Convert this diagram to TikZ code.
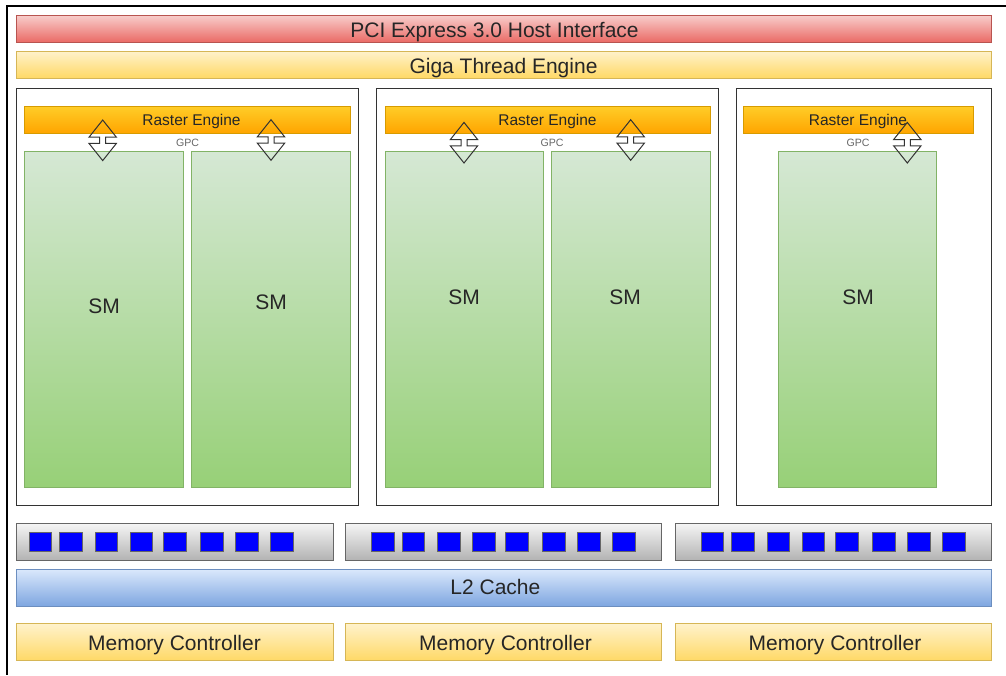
\documentclass[tikz,border=0pt]{standalone}
\usepackage{fontspec}
\setmainfont{Liberation Sans}
\definecolor{pciTop}{HTML}{F8CECC}
\definecolor{pciBot}{HTML}{EA6B66}
\definecolor{pciLine}{HTML}{B85450}
\definecolor{ylwTop}{HTML}{FFF2CC}
\definecolor{ylwBot}{HTML}{FFD966}
\definecolor{ylwLine}{HTML}{D6B656}
\definecolor{orgTop}{HTML}{FFCD28}
\definecolor{orgBot}{HTML}{FFA500}
\definecolor{orgLine}{HTML}{D79B00}
\definecolor{grnTop}{HTML}{D5E8D4}
\definecolor{grnBot}{HTML}{97D077}
\definecolor{grnLine}{HTML}{82B366}
\definecolor{gryTop}{HTML}{F5F5F5}
\definecolor{gryBot}{HTML}{B3B3B3}
\definecolor{gryLine}{HTML}{666666}
\definecolor{bluTop}{HTML}{DAE8FC}
\definecolor{bluBot}{HTML}{7EA6E0}
\definecolor{bluLine}{HTML}{6C8EBF}
\definecolor{frameLine}{HTML}{333333}
\tikzset{
  x=1pt, y=-1pt,
  blk/.style={rectangle, draw, line width=1pt, inner sep=0pt, outer sep=0pt, anchor=north west},
  pci/.style={blk, top color=pciTop, bottom color=pciBot, draw=pciLine},
  ylw/.style={blk, top color=ylwTop, bottom color=ylwBot, draw=ylwLine},
  raster/.style={blk, top color=orgTop, bottom color=orgBot, draw=orgLine},
  sm/.style={blk, top color=grnTop, bottom color=grnBot, draw=grnLine},
  xbar/.style={blk, top color=gryTop, bottom color=gryBot, draw=gryLine},
  l2/.style={blk, top color=bluTop, bottom color=bluBot, draw=bluLine},
  gpc/.style={blk, fill=white, draw=frameLine},
  port/.style={blk, fill=blue, draw=gryLine, minimum width=22.7pt, minimum height=19.3pt},
  big/.style={font=\fontsize{21}{25}\selectfont, text=black!85, text height=15pt, text depth=0pt},
  mid/.style={font=\fontsize{15.5}{18}\selectfont, text=black!85, text height=11.1pt, text depth=0pt},
  tiny/.style={font=\fontsize{10.6}{12}\selectfont, text=black!60, text height=7.6pt, text depth=0pt},
  arrowline/.style={draw=frameLine, line width=1pt, line join=miter},
  dblarrow/.pic={
    \draw[arrowline] (0,-20.3) -- (13.7,-3.1) -- (3,-3.1) -- (3,3.1) -- (13.7,3.1)
      -- (0,20.3) -- (-13.7,3.1) -- (-3,3.1) -- (-3,-3.1) -- (-13.7,-3.1) -- cycle;
  }
}
\begin{document}
\begin{tikzpicture}
\useasboundingbox (0,0) rectangle (1006,675);
% outer frame (top and left edges)
\coordinate (frameTR) at (1006,6);
\coordinate (frameTL) at (7,6);
\coordinate (frameBL) at (7,675);
\draw[line width=1.2pt, black] (frameTR) -- (frameTL) -- (frameBL);

% host interface and thread engine
\node[pci, minimum width=975pt, minimum height=27pt] (pcie) at (16,15) {};
\node[big] (pcieText) at (494.5,29.5) {PCI Express 3.0 Host Interface};
\node[ylw, minimum width=975pt, minimum height=27pt] (giga) at (16,51) {};
\node[big] (gigaText) at (503.5,65.8) {Giga Thread Engine};

% graphics processing clusters
\node[gpc, minimum width=342pt, minimum height=417pt] (gpc1) at (16,88) {};
\node[gpc, minimum width=342pt, minimum height=417pt] (gpc2) at (376,88) {};
\node[gpc, minimum width=255pt, minimum height=417pt] (gpc3) at (736,88) {};

\node[raster, minimum width=326pt, minimum height=27pt] (ras1) at (24,106) {};
\node[raster, minimum width=325pt, minimum height=27pt] (ras2) at (385,106) {};
\node[raster, minimum width=230pt, minimum height=27pt] (ras3) at (743,106) {};
\node[mid] (rasText1) at (191.5,120.2) {Raster Engine};
\node[mid] (rasText2) at (547.5,120.2) {Raster Engine};
\node[mid] (rasText3) at (858,120.2) {Raster Engine};

\node[tiny] (gpcLbl1) at (187.5,143) {GPC};
\node[tiny] (gpcLbl2) at (552,143) {GPC};
\node[tiny] (gpcLbl3) at (858,143) {GPC};

\node[sm, minimum width=158.6pt, minimum height=336pt] (sm11) at (24.7,151.7) {};
\node[sm, minimum width=158.3pt, minimum height=336pt] (sm12) at (191.7,151.7) {};
\node[sm, minimum width=158.3pt, minimum height=336pt] (sm21) at (385,151.7) {};
\node[sm, minimum width=158.3pt, minimum height=336pt] (sm22) at (551.7,151.7) {};
\node[sm, minimum width=158.4pt, minimum height=336pt] (sm31) at (778.3,151.7) {};

\node[big] (smLbl11) at (104,306) {SM};
\node[big] (smLbl12) at (271,302) {SM};
\node[big] (smLbl21) at (464,297) {SM};
\node[big] (smLbl22) at (625,297) {SM};
\node[big] (smLbl31) at (858,297) {SM};

% raster engine <-> SM links
\pic (link11) at (102.7,140.3) {dblarrow};
\pic (link12) at (271,140) {dblarrow};
\pic (link21) at (464,142.7) {dblarrow};
\pic (link22) at (630.7,140) {dblarrow};
\pic (link31) at (907.3,142.7) {dblarrow};

% crossbar with memory ports
\node[xbar, minimum width=317pt, minimum height=36.7pt] (xbar1) at (16,523.3) {};
\node[xbar, minimum width=316.7pt, minimum height=36.7pt] (xbar2) at (345,523.3) {};
\node[xbar, minimum width=316pt, minimum height=36.7pt] (xbar3) at (675,523.3) {};
\foreach \px [count=\i] in {29,59.7,95,130,163.3,200.3,235.3,270.3} {
  \node[port] (portA\i) at (\px,532.3) {};
  \node[port] (portB\i) at (\px+342.3,532.3) {};
  \node[port] (portC\i) at (\px+672,532.3) {};
}

% L2 cache
\node[l2, minimum width=975pt, minimum height=36.7pt] (l2) at (16,569.3) {};
\node[big] (l2Text) at (495.4,586.7) {L2 Cache};

% memory controllers
\node[ylw, minimum width=317pt, minimum height=37.4pt] (mc1) at (16,623.3) {};
\node[ylw, minimum width=316.7pt, minimum height=37.4pt] (mc2) at (345,623.3) {};
\node[ylw, minimum width=316pt, minimum height=37.4pt] (mc3) at (675,623.3) {};
\node[big] (mcText1) at (174.5,642.5) {Memory Controller};
\node[big] (mcText2) at (505.5,642.5) {Memory Controller};
\node[big] (mcText3) at (835,642.5) {Memory Controller};
\end{tikzpicture}
\end{document}
